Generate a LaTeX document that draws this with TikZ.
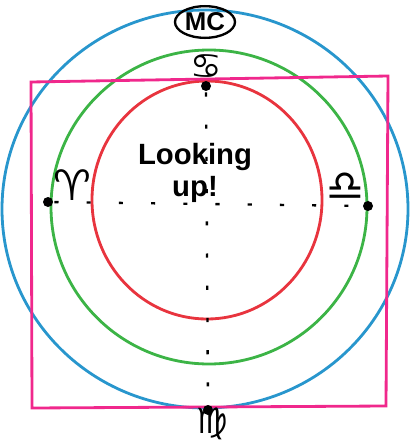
\documentclass[tikz,border=0pt]{standalone}
\usepackage{fontspec}
\setsansfont{Liberation Sans}
\newfontfamily\zodiac{DejaVu Sans}
\usetikzlibrary{shapes.geometric}

\definecolor{skyblue}{RGB}{40,150,205}
\definecolor{grassgreen}{RGB}{60,180,70}
\definecolor{rosered}{RGB}{232,52,62}
\definecolor{hotpink}{RGB}{240,40,140}

\begin{document}
\begin{tikzpicture}[x=0.03cm,y=-0.03cm,line width=2.4pt,
  pen/.style={black,line width=2pt},
  spot/.style={circle,fill=black,inner sep=0pt,minimum size=0.3cm},
  sign/.style={font=\zodiac\fontsize{36}{36}\selectfont,inner sep=0pt},
  smallsign/.style={sign,font=\zodiac\fontsize{30}{30}\selectfont},
  axis/.style={black,line width=2pt,dash pattern=on 3.5pt off 24pt}]
\useasboundingbox (0,0) rectangle (409,444);
% sky circles
\draw[skyblue] (205,209) ellipse [x radius=203,y radius=199];
\draw[grassgreen] (209,207) ellipse [x radius=158,y radius=157];
\draw[rosered] (207,200) ellipse [x radius=115,y radius=119];
\draw[hotpink] (31,82) -- (388,76) -- (386,406) -- (32,408) -- cycle;
% cardinal points
\node[spot] (top) at (206,86) {};
\node[spot] (left) at (48,202) {};
\node[spot] (right) at (368,206) {};
\node[spot] (bottom) at (208,410) {};
\draw[axis] (top) -- (bottom);
\draw[axis] (left) -- (right);
\node[ellipse,draw,pen,minimum width=1.8cm,minimum height=0.95cm,inner sep=0pt,
  font=\sffamily\bfseries\fontsize{22}{22}\selectfont] (mc) at (205,22) {MC};
\node[smallsign] (cancer) at (206,67) {♋};
\node[sign] (aries) at (72,185) {♈};
\node[sign] (libra) at (345,187) {♎};
\node[smallsign] (virgo) at (212,424) {♍};
\node[align=center,font=\sffamily\bfseries\fontsize{25}{27}\selectfont] (look) at (195,173) {Looking\\up!};
\end{tikzpicture}
\end{document}
